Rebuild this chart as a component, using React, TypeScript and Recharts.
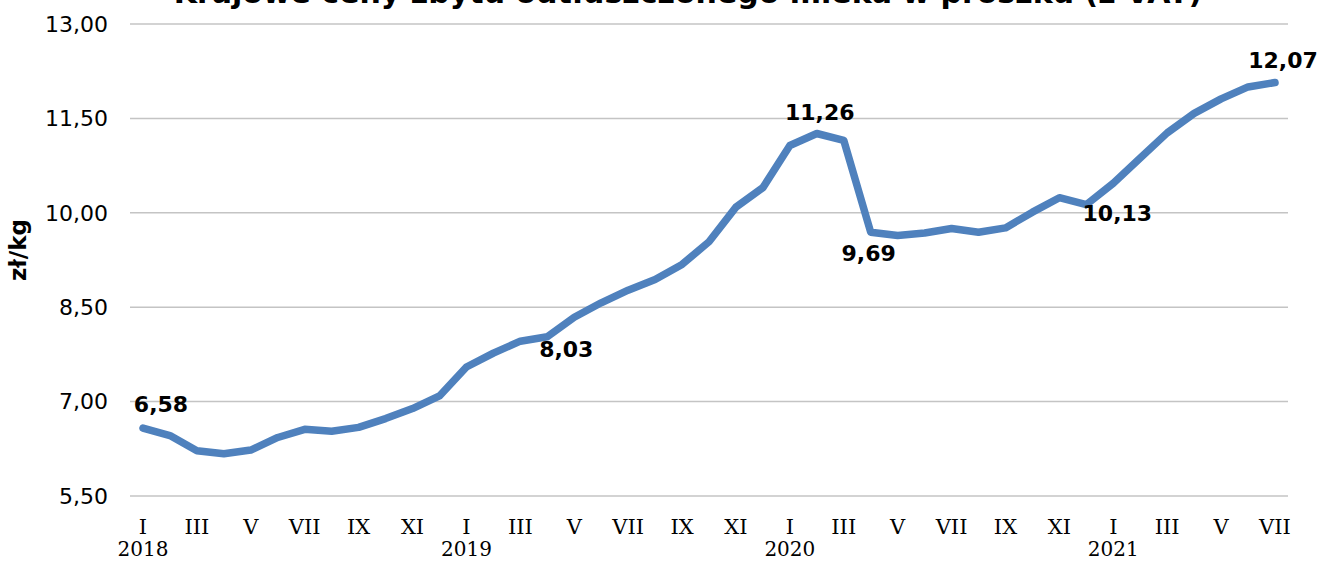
import { LineChart, Line, XAxis, YAxis, CartesianGrid, LabelList } from "recharts";

const monthNames = ["I", "II", "III", "IV", "V", "VI", "VII", "VIII", "IX", "X", "XI", "XII"];
const years = [2018, 2019, 2020, 2021];

// zł/kg, monthly
const prices2018 = [6.58, 6.46, 6.22, 6.17, 6.23, 6.43, 6.56, 6.53, 6.59, 6.73, 6.89, 7.09];
const prices2019 = [7.55, 7.77, 7.96, 8.03, 8.34, 8.57, 8.77, 8.94, 9.18, 9.54, 10.09, 10.4];
const prices2020 = [11.07, 11.26, 11.15, 9.69, 9.64, 9.68, 9.75, 9.69, 9.76, 10.01, 10.24, 10.13];
const prices2021 = [10.47, 10.87, 11.27, 11.58, 11.81, 12.0, 12.07];

const yTicks = [5.5, 7, 8.5, 10, 11.5, 13];

// points that carry a value label
const labelledKeys = ["I 2018", "IV 2019", "II 2020", "IV 2020", "XII 2020", "VII 2021"];

const seriesByYear = [prices2018, prices2019, prices2020, prices2021];
const data = seriesByYear.flatMap((vals, yi) =>
  vals.map((v, mi) => ({
    month: monthNames[mi],
    year: years[yi],
    key: `${monthNames[mi]} ${years[yi]}`,
    price: v,
  }))
);

const fmt = (v: number) => v.toFixed(2).replace(".", ",");

// label offsets from the point (dx, dy of text centre)
const labelOffset: Record<string, [number, number]> = {
  "I 2018": [18, -24],
  "IV 2019": [19, 13],
  "II 2020": [3, -21],
  "IV 2020": [-2, 21],
  "XII 2020": [31, 9],
  "VII 2021": [8, -22],
};

const MonthTick = (props: any) => {
  const { x, y, payload } = props;
  const row = data[payload.index];
  return (
    <g>
      <text x={x} y={y + 36} textAnchor="middle" fontFamily="DejaVu Serif" fontSize={21} fill="#000">
        {payload.value}
      </text>
      {row && row.month === "I" && (
        <text x={x} y={y + 58} textAnchor="middle" fontFamily="DejaVu Serif" fontSize={20} fill="#000">
          {row.year}
        </text>
      )}
    </g>
  );
};

const PointLabel = (props: any) => {
  const { x, y, index } = props;
  const row = data[index];
  if (!row || !labelledKeys.includes(row.key)) return null;
  const [dx, dy] = labelOffset[row.key] || [0, -20];
  return (
    <text x={x + dx} y={y + dy} textAnchor="middle" dominantBaseline="central" fontFamily="DejaVu Sans" fontWeight="bold" fontSize={22} fill="#000">
      {fmt(row.price)}
    </text>
  );
};

export default function App() {
  return (
    <div style={{ position: "absolute", left: 0, top: 0, width: 1320, height: 561, background: "#fff" }}>
      <LineChart width={1320} height={561} data={data} margin={{ top: 24, right: 32, bottom: 0, left: 0 }}>
        <CartesianGrid vertical={false} stroke="#c4c4c4" strokeWidth={1.5} />
        <XAxis
          dataKey="month"
          interval={1}
          height={65}
          padding={{ left: 13, right: 13 }}
          axisLine={false}
          tickLine={false}
          tickSize={0}
          tick={<MonthTick />}
        />
        <YAxis
          width={130}
          domain={[5.5, 13]}
          ticks={yTicks}
          tickFormatter={fmt}
          axisLine={false}
          tickLine={false}
          tickSize={0}
          tickMargin={22}
          tick={{ fill: "#000", fontSize: 22, fontFamily: "DejaVu Sans" }}
        />
        <Line
          type="linear"
          dataKey="price"
          stroke="#4f81bd"
          strokeWidth={7.5}
          strokeLinecap="round"
          strokeLinejoin="round"
          dot={false}
          activeDot={false}
          isAnimationActive={false}
        >
          <LabelList dataKey="price" content={<PointLabel />} />
        </Line>
      </LineChart>
      <svg width={1320} height={561} style={{ position: "absolute", left: 0, top: 0, pointerEvents: "none" }}>
        <text x={688} y={3} textAnchor="middle" fontFamily="DejaVu Sans" fontWeight="bold" fontSize={30} fill="#000">
          Krajowe ceny zbytu odtłuszczonego mleka w proszku  (z VAT)
        </text>
        <text
          x={18}
          y={250}
          transform="rotate(-90 18 250)"
          textAnchor="middle"
          dominantBaseline="central"
          fontFamily="DejaVu Sans"
          fontWeight="bold"
          fontSize={23}
          fill="#000"
        >
          zł/kg
        </text>
      </svg>
    </div>
  );
}
